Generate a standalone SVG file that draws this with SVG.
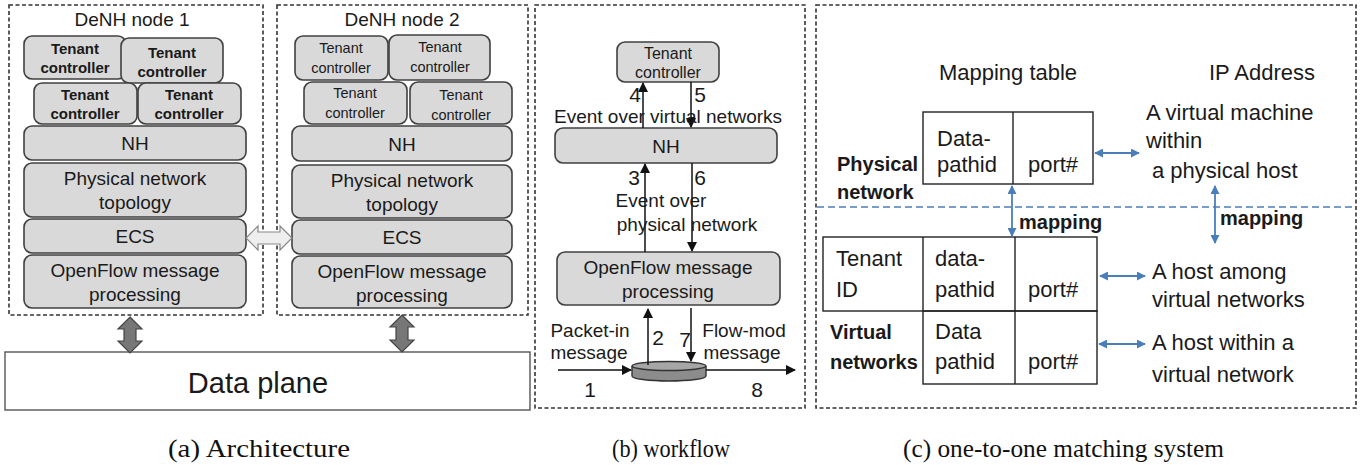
<svg xmlns="http://www.w3.org/2000/svg" width="1362" height="465" viewBox="0 0 1362 465">
  <style>
    text { font-family: "Liberation Sans", Arial, sans-serif; fill: #1a1a1a; }
    .frame { fill: none; stroke: #333; stroke-width: 1.6; stroke-dasharray: 4 2.5; }
    .blk { fill: #d9d9d9; stroke: #404040; stroke-width: 1.6; }
    .tc1 { font-size: 15px; font-weight: bold; }
    .tc2 { font-size: 14.5px; }
    .lay { font-size: 19px; }
    .wf { font-size: 19px; }
    .num { font-size: 21px; }
    .c { font-size: 22px; }
    .cb { font-size: 20px; font-weight: bold; }
    .cap { font-family: "Liberation Serif", "Times New Roman", serif; font-size: 26px; fill: #111; }
    .flow { stroke: #111; stroke-width: 1.5; fill: none; }
    .blue { stroke: #4a7ebb; stroke-width: 1.8; fill: none; }
    .cell { fill: none; stroke: #222; stroke-width: 1.4; }
  </style>
  <defs>
    <marker id="ah" viewBox="0 0 10 10" refX="9" refY="5" markerWidth="7" markerHeight="7" orient="auto-start-reverse">
      <path d="M0,0 L10,5 L0,10 z" fill="#111"/>
    </marker>
    <marker id="bh" viewBox="0 0 10 10" refX="9" refY="5" markerWidth="5" markerHeight="5" orient="auto-start-reverse">
      <path d="M0,0 L10,5 L0,10 z" fill="#4a7ebb"/>
    </marker>
  </defs>

  <!-- (a) Architecture -->
  <g id="node1">
    <rect class="frame" x="9" y="5" width="254" height="310"/>
    <text x="132" y="26" text-anchor="middle" class="lay">DeNH node 1</text>
    <rect class="blk" x="24" y="36" width="102" height="43" rx="8"/>
    <text x="75" y="54" text-anchor="middle" class="tc1">Tenant</text>
    <text x="75" y="73" text-anchor="middle" class="tc1">controller</text>
    <rect class="blk" x="121" y="38" width="102" height="45" rx="8"/>
    <text x="172" y="58" text-anchor="middle" class="tc1">Tenant</text>
    <text x="172" y="77" text-anchor="middle" class="tc1">controller</text>
    <rect class="blk" x="34" y="83" width="103" height="41" rx="8"/>
    <text x="85" y="100" text-anchor="middle" class="tc1">Tenant</text>
    <text x="85" y="119" text-anchor="middle" class="tc1">controller</text>
    <rect class="blk" x="138" y="83" width="103" height="41" rx="8"/>
    <text x="189" y="100" text-anchor="middle" class="tc1">Tenant</text>
    <text x="189" y="119" text-anchor="middle" class="tc1">controller</text>
    <rect class="blk" x="24" y="126" width="222" height="34" rx="8"/>
    <text x="135" y="150" text-anchor="middle" class="lay">NH</text>
    <rect class="blk" x="24" y="163" width="222" height="54" rx="8"/>
    <text x="135" y="185" text-anchor="middle" class="lay">Physical network</text>
    <text x="135" y="209" text-anchor="middle" class="lay">topology</text>
    <rect class="blk" x="24" y="219" width="222" height="34" rx="8"/>
    <text x="135" y="243" text-anchor="middle" class="lay">ECS</text>
    <rect class="blk" x="24" y="255" width="222" height="53" rx="8"/>
    <text x="135" y="277" text-anchor="middle" class="lay">OpenFlow message</text>
    <text x="135" y="301" text-anchor="middle" class="lay">processing</text>
  </g>

  <g id="node2">
    <rect class="frame" x="277" y="5" width="251" height="310"/>
    <text x="402" y="26" text-anchor="middle" class="lay">DeNH node 2</text>
    <rect class="blk" x="295" y="36" width="93" height="44" rx="8"/>
    <text x="341" y="53" text-anchor="middle" class="tc2">Tenant</text>
    <text x="341" y="73" text-anchor="middle" class="tc2">controller</text>
    <rect class="blk" x="389" y="35" width="101" height="45" rx="8"/>
    <text x="440" y="52" text-anchor="middle" class="tc2">Tenant</text>
    <text x="440" y="72" text-anchor="middle" class="tc2">controller</text>
    <rect class="blk" x="304" y="82" width="103" height="42" rx="8"/>
    <text x="355" y="98" text-anchor="middle" class="tc2">Tenant</text>
    <text x="355" y="118" text-anchor="middle" class="tc2">controller</text>
    <rect class="blk" x="410" y="82" width="102" height="42" rx="8"/>
    <text x="461" y="100" text-anchor="middle" class="tc2">Tenant</text>
    <text x="461" y="120" text-anchor="middle" class="tc2">controller</text>
    <rect class="blk" x="292" y="126" width="220" height="35" rx="8"/>
    <text x="402" y="151" text-anchor="middle" class="lay">NH</text>
    <rect class="blk" x="292" y="165" width="220" height="53" rx="8"/>
    <text x="402" y="187" text-anchor="middle" class="lay">Physical network</text>
    <text x="402" y="211" text-anchor="middle" class="lay">topology</text>
    <rect class="blk" x="292" y="220" width="220" height="34" rx="8"/>
    <text x="402" y="244" text-anchor="middle" class="lay">ECS</text>
    <rect class="blk" x="292" y="256" width="220" height="52" rx="8"/>
    <text x="402" y="278" text-anchor="middle" class="lay">OpenFlow message</text>
    <text x="402" y="302" text-anchor="middle" class="lay">processing</text>
  </g>

  <g id="dataplane">
    <rect x="5" y="352" width="525" height="58" fill="#fff" stroke="#555" stroke-width="1.4"/>
    <text x="258" y="393" text-anchor="middle" font-size="29">Data plane</text>
  </g>

  <g id="arch-connectors">
    <!-- hollow double arrow between the ECS layers -->
    <path d="M246,238 L258,226 L258,232 L280,232 L280,226 L292,238 L280,250 L280,244 L258,244 L258,250 Z" fill="#eee" stroke="#888" stroke-width="1.2"/>
    <!-- node to data plane links -->
    <path d="M130,317 L142,329 L136,329 L136,341 L142,341 L130,353 L118,341 L124,341 L124,329 L118,329 Z" fill="#777" stroke="#444" stroke-width="1.2"/>
    <path d="M402,315 L414,327 L408,327 L408,340 L414,340 L402,352 L390,340 L396,340 L396,327 L390,327 Z" fill="#777" stroke="#444" stroke-width="1.2"/>
  </g>

  <!-- (b) workflow -->
  <g id="workflow">
    <rect class="frame" x="535" y="5" width="270" height="403"/>
    <rect class="blk" x="617" y="42" width="102" height="40" rx="8"/>
    <text x="668" y="59" text-anchor="middle" font-size="16">Tenant</text>
    <text x="668" y="78" text-anchor="middle" font-size="16">controller</text>
    <rect class="blk" x="555" y="128" width="222" height="35" rx="8"/>
    <text x="666" y="153" text-anchor="middle" class="lay">NH</text>
    <rect class="blk" x="557" y="252" width="223" height="53" rx="8"/>
    <text x="668" y="274" text-anchor="middle" class="lay">OpenFlow message</text>
    <text x="668" y="298" text-anchor="middle" class="lay">processing</text>
    <!-- switch -->
    <path d="M632,366 L632,376 A37,5 0 0 0 706,376 L706,366" fill="#8c8c8c" stroke="#333" stroke-width="1.4"/>
    <ellipse cx="669" cy="366" rx="37" ry="4.5" fill="#a6a6a6" stroke="#333" stroke-width="1.4"/>
  </g>

  <g id="workflow-connectors">
    <line class="flow" x1="643" y1="128" x2="643" y2="83" marker-end="url(#ah)"/>
    <line class="flow" x1="691" y1="82" x2="691" y2="127" marker-end="url(#ah)"/>
    <line class="flow" x1="645" y1="252" x2="645" y2="164" marker-end="url(#ah)"/>
    <line class="flow" x1="692" y1="163" x2="692" y2="251" marker-end="url(#ah)"/>
    <line class="flow" x1="648" y1="365" x2="648" y2="309" marker-end="url(#ah)"/>
    <line class="flow" x1="691" y1="308" x2="691" y2="361" marker-end="url(#ah)"/>
    <line class="flow" x1="558" y1="370" x2="631" y2="370" marker-end="url(#ah)"/>
    <line class="flow" x1="706" y1="370" x2="795" y2="370" marker-end="url(#ah)"/>
    <text x="635" y="102" text-anchor="middle" class="num">4</text>
    <text x="700" y="102" text-anchor="middle" class="num">5</text>
    <text x="668" y="123" text-anchor="middle" class="wf">Event over virtual networks</text>
    <text x="634" y="185" text-anchor="middle" class="num">3</text>
    <text x="700" y="185" text-anchor="middle" class="num">6</text>
    <text x="661" y="207" text-anchor="middle" class="wf">Event over</text>
    <text x="687" y="231" text-anchor="middle" class="wf">physical network</text>
    <text x="590" y="337" text-anchor="middle" class="wf">Packet-in</text>
    <text x="589" y="359" text-anchor="middle" class="wf">message</text>
    <text x="744" y="337" text-anchor="middle" class="wf">Flow-mod</text>
    <text x="742" y="359" text-anchor="middle" class="wf">message</text>
    <text x="658" y="345" text-anchor="middle" class="num">2</text>
    <text x="685" y="347" text-anchor="middle" class="num">7</text>
    <text x="590" y="397" text-anchor="middle" class="num">1</text>
    <text x="757" y="397" text-anchor="middle" class="num">8</text>
  </g>

  <!-- (c) one-to-one matching system -->
  <g id="matching">
    <rect class="frame" x="816" y="5" width="540" height="403"/>
    <text x="1008" y="80" text-anchor="middle" class="c">Mapping table</text>
    <text x="1262" y="80" text-anchor="middle" class="c">IP Address</text>
    <line x1="817" y1="207" x2="1354" y2="207" stroke="#4a7ebb" stroke-width="1.6" stroke-dasharray="7 4"/>
  </g>

  <g id="physical-table">
    <rect class="cell" x="923" y="112" width="170" height="72"/>
    <line class="cell" x1="1013" y1="112" x2="1013" y2="184"/>
    <text x="937" y="146" class="c">Data-</text>
    <text x="937" y="172" class="c">pathid</text>
    <text x="1053" y="172" text-anchor="middle" class="c">port#</text>
    <text x="837" y="171" class="cb">Physical</text>
    <text x="837" y="199" class="cb">network</text>
  </g>

  <g id="virtual-table">
    <rect class="cell" x="823" y="237" width="274" height="74"/>
    <rect class="cell" x="923" y="311" width="174" height="73"/>
    <line class="cell" x1="923" y1="237" x2="923" y2="311"/>
    <line class="cell" x1="1015" y1="237" x2="1015" y2="384"/>
    <text x="836" y="266" class="c">Tenant</text>
    <text x="836" y="297" class="c">ID</text>
    <text x="935" y="266" class="c">data-</text>
    <text x="935" y="297" class="c">pathid</text>
    <text x="1028" y="297" class="c">port#</text>
    <text x="830" y="339" class="cb">Virtual</text>
    <text x="830" y="369" class="cb">networks</text>
    <text x="935" y="339" class="c">Data</text>
    <text x="935" y="369" class="c">pathid</text>
    <text x="1028" y="369" class="c">port#</text>
  </g>

  <g id="addresses">
    <text x="1146" y="120" class="c">A virtual machine</text>
    <text x="1146" y="148" class="c">within</text>
    <text x="1152" y="178" class="c">a physical host</text>
    <text x="1152" y="279" class="c">A host among</text>
    <text x="1152" y="307" class="c">virtual networks</text>
    <text x="1152" y="350" class="c">A host within a</text>
    <text x="1152" y="382" class="c">virtual network</text>
    <text x="1019" y="229" class="cb">mapping</text>
    <text x="1220" y="225" class="cb">mapping</text>
  </g>

  <g id="matching-connectors">
    <line class="blue" x1="1095" y1="153" x2="1139" y2="153" marker-start="url(#bh)" marker-end="url(#bh)"/>
    <line class="blue" x1="1100" y1="276" x2="1145" y2="276" marker-start="url(#bh)" marker-end="url(#bh)"/>
    <line class="blue" x1="1099" y1="344" x2="1145" y2="344" marker-start="url(#bh)" marker-end="url(#bh)"/>
    <line class="blue" x1="1012" y1="186" x2="1012" y2="236" marker-start="url(#bh)" marker-end="url(#bh)"/>
    <line class="blue" x1="1215" y1="186" x2="1215" y2="243" marker-start="url(#bh)" marker-end="url(#bh)"/>
  </g>

  <g id="captions">
    <text x="168" y="457" class="cap" textLength="182" lengthAdjust="spacingAndGlyphs">(a) Architecture</text>
    <text x="612" y="457" class="cap" textLength="118" lengthAdjust="spacingAndGlyphs">(b) workflow</text>
    <text x="903" y="457" class="cap" textLength="321" lengthAdjust="spacingAndGlyphs">(c) one-to-one matching system</text>
  </g>
</svg>
